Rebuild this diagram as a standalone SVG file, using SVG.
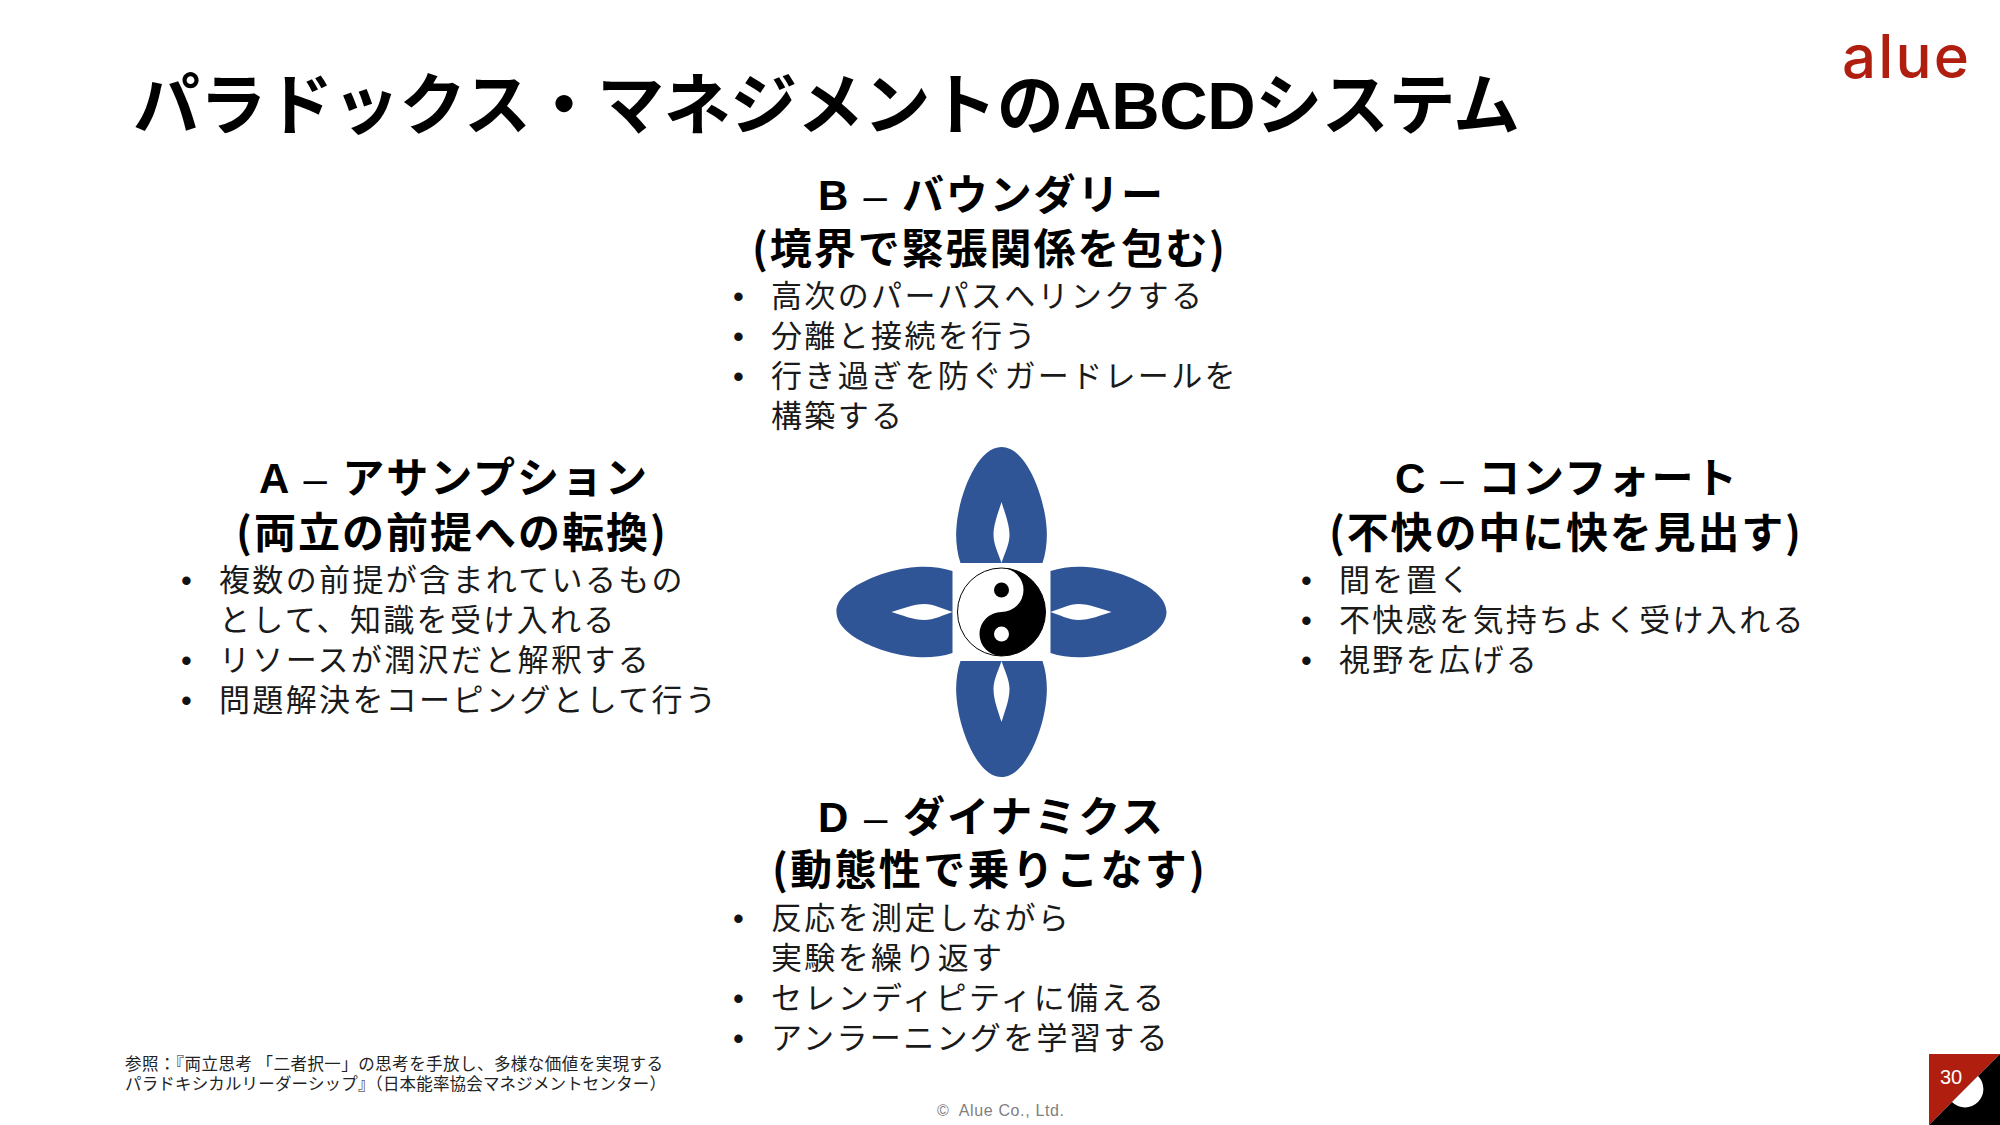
<svg xmlns="http://www.w3.org/2000/svg" width="2000" height="1125" viewBox="0 0 2000 1125">
<style>
text{font-family:"Noto Sans CJK JP","Noto Sans",sans-serif}
.h{font-size:42px;font-weight:700;fill:#000}
.l{font-family:"Liberation Sans",sans-serif}
.n{font-family:"Liberation Sans",sans-serif;font-weight:400}
.b{font-size:31px;fill:#1a1a1a;letter-spacing:2.35px}
.d{font-size:31px;fill:#111;font-family:"Liberation Sans",sans-serif}
.p{fill:#2f5597}
</style>
<defs>
<path id="petal" fill-rule="evenodd" d="M-41,-49 C-45,-60 -46,-75 -45,-85 C-43,-115 -25,-165 0,-165 C25,-165 43,-115 45,-85 C46,-75 45,-60 41,-49 Z M0,-110 C-3,-100 -8,-88 -8,-77 C-8,-68 -3,-58 0,-49 C3,-58 8,-68 8,-77 C8,-88 3,-100 0,-110 Z"/>
</defs>
<rect width="2000" height="1125" fill="#fff"/>
<text id="title" x="133" y="129" font-size="67" font-weight="700" textLength="1387" lengthAdjust="spacing">パラドックス・マネジメントの<tspan class="l">ABCD</tspan>システム</text>
<g id="logo"><text x="1842" y="78" font-size="60" style="font-family:Inter,sans-serif" font-weight="500" fill="#b01e0f" textLength="127">alue</text></g>
<g id="symbol" transform="translate(1001.5 612)">
<use href="#petal" class="p"/>
<use href="#petal" class="p" transform="rotate(90)"/>
<use href="#petal" class="p" transform="rotate(180)"/>
<use href="#petal" class="p" transform="rotate(270)"/>
<circle r="44" fill="#fff" stroke="#000" stroke-width="1"/>
<path d="M0,-44 A44,44 0 0 1 0,44 A22,22 0 0 1 0,0 A22,22 0 0 0 0,-44 Z" fill="#000"/>
<circle cy="-22" r="7.5" fill="#000"/>
<circle cy="22" r="7.5" fill="#fff"/>
</g>
<g id="node-b">
<text class="h" x="818" y="210" textLength="345"><tspan class="l">B </tspan><tspan class="n">– </tspan>バウンダリー</text>
<text class="h" x="752" y="264" textLength="473">(境界で緊張関係を包む)</text>
<text class="d" x="733" y="307">•</text><text class="b" x="771" y="307">高次のパーパスへリンクする</text>
<text class="d" x="733" y="347">•</text><text class="b" x="771" y="347">分離と接続を行う</text>
<text class="d" x="733" y="387">•</text><text class="b" x="771" y="387">行き過ぎを防ぐガードレールを</text>
<text class="b" x="771" y="427">構築する</text>
</g>
<g id="node-a">
<text class="h" x="259" y="493" textLength="388"><tspan class="l">A </tspan><tspan class="n">– </tspan>アサンプション</text>
<text class="h" x="236" y="548" textLength="430">(両立の前提への転換)</text>
<text class="d" x="181" y="591">•</text><text class="b" x="219" y="591">複数の前提が含まれているもの</text>
<text class="b" x="219" y="631">として、知識を受け入れる</text>
<text class="d" x="181" y="671">•</text><text class="b" x="219" y="671">リソースが潤沢だと解釈する</text>
<text class="d" x="181" y="711">•</text><text class="b" x="219" y="711">問題解決をコーピングとして行う</text>
</g>
<g id="node-c">
<text class="h" x="1395" y="493" textLength="342"><tspan class="l">C </tspan><tspan class="n">– </tspan>コンフォート</text>
<text class="h" x="1329" y="548" textLength="472">(不快の中に快を見出す)</text>
<text class="d" x="1301" y="591">•</text><text class="b" x="1339" y="591">間を置く</text>
<text class="d" x="1301" y="631">•</text><text class="b" x="1339" y="631">不快感を気持ちよく受け入れる</text>
<text class="d" x="1301" y="671">•</text><text class="b" x="1339" y="671">視野を広げる</text>
</g>
<g id="node-d">
<text class="h" x="818" y="832" textLength="345"><tspan class="l">D </tspan><tspan class="n">– </tspan>ダイナミクス</text>
<text class="h" x="772" y="885" textLength="433">(動態性で乗りこなす)</text>
<text class="d" x="733" y="929">•</text><text class="b" x="771" y="929">反応を測定しながら</text>
<text class="b" x="771" y="969">実験を繰り返す</text>
<text class="d" x="733" y="1009">•</text><text class="b" x="771" y="1009">セレンディピティに備える</text>
<text class="d" x="733" y="1049">•</text><text class="b" x="771" y="1049">アンラーニングを学習する</text>
</g>
<g id="reference" font-size="16.5" fill="#222">
<text x="125" y="1070" textLength="538">参照：『両立思考 「二者択一」の思考を手放し、多様な価値を実現する</text>
<text x="125" y="1090" textLength="541">パラドキシカルリーダーシップ』（日本能率協会マネジメントセンター）</text>
</g>
<text id="copyright" x="937" y="1116" font-size="16" fill="#808080" textLength="127" style="font-family:'Liberation Sans',sans-serif;white-space:pre">©  Alue Co., Ltd.</text>
<g id="page">
<path d="M1929,1054H2000L1929,1125Z" fill="#b01e0f"/>
<path d="M2000,1054V1125H1929Z" fill="#000"/>
<path d="M1978,1076 A18,18 0 1 1 1952,1102 Z" fill="#fff"/>
<text x="1951" y="1084" font-size="20" fill="#fff" text-anchor="middle" style="font-family:'Liberation Sans',sans-serif">30</text>
</g>
</svg>
